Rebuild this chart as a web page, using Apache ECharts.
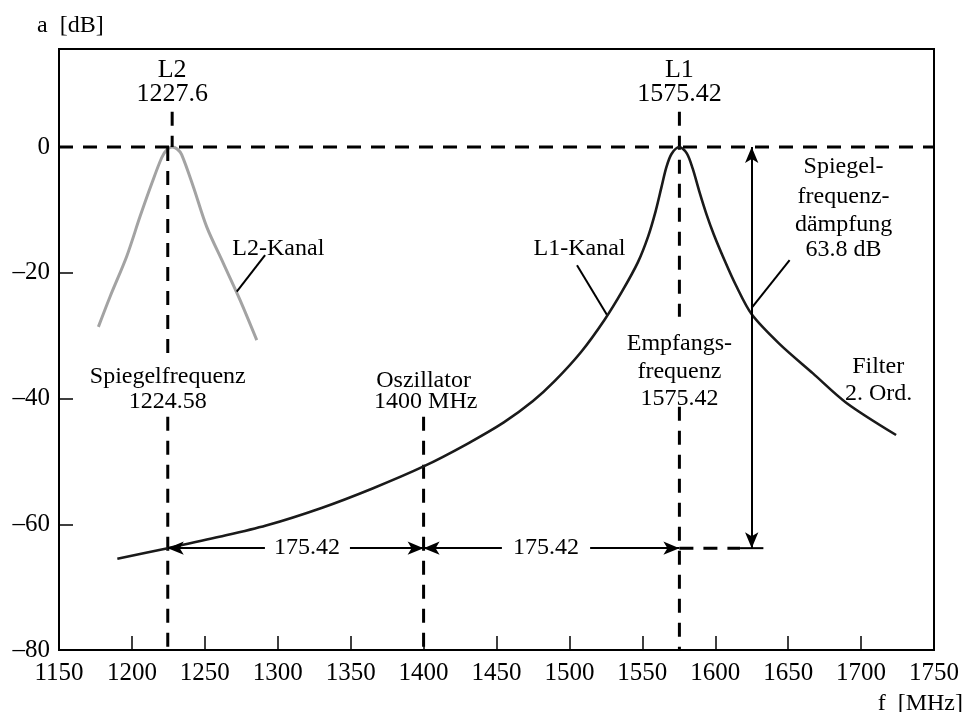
<!DOCTYPE html>
<html>
<head>
<meta charset="utf-8">
<script src="https://cdn.jsdelivr.net/npm/echarts@6/dist/echarts.min.js"></script>
<style>
  html, body { margin: 0; padding: 0; background: #fff; }
  #chart { width: 977px; height: 712px; }
</style>
</head>
<body>
<div id="chart"></div>
<script>
const FONT = '"Liberation Serif", "Times New Roman", serif';
const INK = '#000';

// Key frequencies [MHz] and the image-frequency attenuation [dB]
const l1Center = 1575.42;
const l2Center = 1227.6;
const imageFreq = 1224.58;
const oscFreq = 1400;
const imageAtten = -63.8;

// L1 channel: 2nd-order filter response (frequency MHz / attenuation dB)
const l1Freq = [1190, 1224.58, 1260, 1292, 1330, 1365, 1400, 1430, 1455, 1475, 1490, 1508, 1524, 1536, 1547,
                1554, 1559, 1563, 1566.5, 1570, 1575.42, 1580.5, 1584.5, 1589, 1594, 1599, 1606, 1614, 1625, 1644, 1667, 1690, 1724];
const l1Db   = [-65.5, -63.8, -62.0, -60.2, -57.4, -54.3, -50.8, -47.2, -43.8, -40.4, -37.2, -32.6, -27.5, -23.0, -18.3,
                -14.2, -10.3, -6.5, -3.2, -1.1, 0, -1.0, -3.4, -7.0, -10.7, -13.9, -17.8, -21.9, -26.6, -31.3, -36.0, -40.7, -45.8];

// L2 channel response
const l2Freq = [1177, 1185, 1196.4, 1205.5, 1213.6, 1220.4, 1224, 1227.6, 1231, 1234.1, 1242.1, 1251.3, 1262.7, 1274.1, 1285.6];
const l2Db   = [-28.6, -23.8, -17.4, -11.1, -5.8, -1.7, -0.4, 0, -0.3, -1.2, -6.3, -12.7, -18.5, -24.3, -30.7];

// Axis ranges
const xMin = 1150, xMax = 1750, xStep = 50;
const yMin = -80, yMax = 15.6, yStep = 20;

const spacing = (oscFreq - imageFreq).toFixed(2);

// Dashed guide lines
const dashedSegments = [
  [[xMin, 0], [xMax, 0]],
  [[l2Center, 5.6], [l2Center, 0]],
  [[imageFreq, 0], [imageFreq, -32.8]],
  [[imageFreq, -42.9], [imageFreq, yMin]],
  [[oscFreq, -42.9], [oscFreq, yMin]],
  [[l1Center, 5.6], [l1Center, -27]],
  [[l1Center, -41.3], [l1Center, yMin]],
  [[l1Center, imageAtten], [1617, imageAtten]]
];

// Thin solid leader lines
const leaderSegments = [
  [[1291.3, -17.2], [1271.9, -23.0]],
  [[1505.2, -18.8], [1525.8, -26.7]],
  [[1651, -18.0], [1625.5, -25.4]],
  [[1617, imageAtten], [1633, imageAtten]]
];

// Arrows: [start, end, arrow at start, arrow at end]
const arrowSegments = [
  [[imageFreq, imageAtten], [1291.2, imageAtten], true, false],
  [[1349.5, imageAtten], [oscFreq, imageAtten], false, true],
  [[oscFreq, imageAtten], [1453.7, imageAtten], true, false],
  [[1514.2, imageAtten], [l1Center, imageAtten], false, true],
  [[1625, 0], [1625, imageAtten], true, true]
];

// Annotation texts: [text, frequency, dB, font size]
const notes = [
  ['L2', l2Center, 12.3, 26], [String(l2Center), l2Center, 8.4, 26],
  ['L1', l1Center, 12.3, 26], [String(l1Center), l1Center, 8.4, 26],
  ['Spiegelfrequenz', imageFreq, -36.5, 24], [String(imageFreq), imageFreq, -40.5, 24],
  ['Oszillator', oscFreq, -37.1, 24], [oscFreq + ' MHz', oscFreq + 1.5, -40.5, 24],
  ['Empfangs-', l1Center, -31.2, 24], ['frequenz', l1Center, -35.7, 24], [String(l1Center), l1Center, -40.0, 24],
  ['Spiegel-', 1688, -3.1, 24], ['frequenz-', 1688, -7.9, 24], ['dämpfung', 1688, -12.4, 24],
  [(-imageAtten).toFixed(1) + ' dB', 1688, -16.4, 24],
  ['L2-Kanal', 1300.4, -16.1, 24], ['L1-Kanal', 1506.9, -16.1, 24],
  ['Filter', 1711.7, -34.9, 24], ['2. Ord.', 1712, -39.2, 24],
  [spacing, 1320, imageAtten, 24], [spacing, 1483.9, imageAtten, 24]
];

const zip = (xs, ys) => xs.map((x, i) => [x, ys[i]]);

const series = [];

series.push({
  type: 'line', name: 'L2-Kanal', data: zip(l2Freq, l2Db), smooth: 0.3,
  showSymbol: false, lineStyle: { color: '#a3a3a3', width: 3 }, z: 2, silent: true
});
series.push({
  type: 'line', name: 'L1-Kanal', data: zip(l1Freq, l1Db), smooth: 0.3,
  showSymbol: false, lineStyle: { color: '#1a1a1a', width: 2.6 }, z: 4, silent: true
});

dashedSegments.forEach(seg => series.push({
  type: 'line', data: seg, showSymbol: false, silent: true, z: 3,
  lineStyle: { color: INK, width: 3, type: [14, 10] }
}));

leaderSegments.forEach(seg => series.push({
  type: 'line', data: seg, showSymbol: false, silent: true, z: 3,
  lineStyle: { color: INK, width: 2 }
}));

series.push({
  type: 'line', data: [], silent: true,
  markLine: {
    silent: true, animation: false, symbolSize: [10, 16], label: { show: false },
    lineStyle: { color: INK, width: 2, type: 'solid' },
    data: arrowSegments.map(([a, b, sa, sb]) => [
      { coord: a, symbol: sa ? 'arrow' : 'none' },
      { coord: b, symbol: sb ? 'arrow' : 'none' }
    ])
  }
});

// Annotation texts placed at data coordinates
series.push({
  type: 'custom', silent: true, z: 6, clip: false,
  data: notes.map(([t, x, y, s]) => [x, y, s, t]),
  encode: { x: 0, y: 1 },
  renderItem: (params, api) => {
    const item = notes[params.dataIndex];
    const p = api.coord([item[1], item[2]]);
    return {
      type: 'text', x: p[0], y: p[1],
      style: { text: item[0], font: item[3] + 'px ' + FONT, fill: INK, align: 'center', verticalAlign: 'middle' }
    };
  }
});

const chart = echarts.init(document.getElementById('chart'), null, { renderer: 'canvas' });
chart.setOption({
  animation: false,
  backgroundColor: '#fff',
  grid: { left: 59, right: 43, top: 49, bottom: 62, show: true, borderColor: INK, borderWidth: 2 },
  xAxis: {
    type: 'value', min: xMin, max: xMax, interval: xStep,
    axisLine: { show: true, onZero: false, lineStyle: { color: INK, width: 2 } },
    axisTick: { show: true, inside: true, length: 14, lineStyle: { color: INK, width: 1.5 } },
    axisLabel: { fontFamily: FONT, fontSize: 25, color: INK, margin: 11, formatter: v => String(v) },
    splitLine: { show: false }
  },
  yAxis: {
    type: 'value', min: yMin, max: yMax, interval: yStep,
    axisLine: { show: true, onZero: false, lineStyle: { color: INK, width: 2 } },
    axisTick: { show: true, inside: true, length: 14, lineStyle: { color: INK, width: 1.5 } },
    axisLabel: {
      fontFamily: FONT, fontSize: 25, color: INK, margin: 9,
      formatter: v => (v % yStep === 0 ? (v < 0 ? '\u2013' + Math.abs(v) : String(v)) : '')
    },
    splitLine: { show: false }
  },
  graphic: [
    { type: 'text', left: 37, top: 14, style: { text: 'a  [dB]', font: '24px ' + FONT, fill: INK } },
    { type: 'text', right: 14, top: 692, style: { text: 'f  [MHz]', font: '24px ' + FONT, fill: INK } }
  ],
  series: series
});
</script>
</body>
</html>
